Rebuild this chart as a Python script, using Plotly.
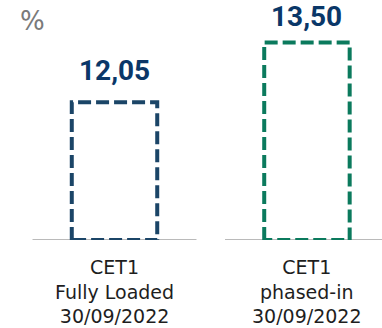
import plotly.graph_objects as go

# CET1 capital ratios at 30/09/2022
categories = ["CET1<br>Fully Loaded<br>30/09/2022", "CET1<br>phased-in<br>30/09/2022"]
values = [12.05, 13.50]
unit_label = "%"

# styling
outline_colors = ["#1b4567", "#0b7a5d"]
value_color = "#0a3768"
axis_ranges = [21.0, 16.4]          # each bar has its own vertical scale
value_shifts = [13, 7]              # pixel gap between bar top and value label
bar_half = 0.222
base_half = 0.426

fig = go.Figure()
positions = list(range(len(categories)))

for i, (pos, val) in enumerate(zip(positions, values)):
    yax = "y" if i == 0 else "y2"
    # baseline segment under the bar
    fig.add_trace(go.Scatter(
        x=[pos - base_half, pos + base_half], y=[0, 0], mode="lines",
        line=dict(color="#a3a3a3", width=1.5), yaxis=yax, hoverinfo="skip",
        showlegend=False))
    # dashed outline of the bar
    fig.add_trace(go.Scatter(
        x=[pos - bar_half, pos - bar_half, pos + bar_half, pos + bar_half, pos - bar_half],
        y=[0, val, val, 0, 0], mode="lines",
        line=dict(color=outline_colors[i], width=4, dash="13px,5px"),
        yaxis=yax, showlegend=False))
    fig.add_annotation(
        x=pos, y=val, xref="x", yref=yax, yanchor="bottom", yshift=value_shifts[i],
        text=f"<b>{val:.2f}</b>".replace(".", ","), showarrow=False,
        font=dict(family="Roboto", size=28, color=value_color))
    fig.add_annotation(
        x=pos, y=0, xref="x", yref=yax, yanchor="top", yshift=-14,
        text=categories[i], showarrow=False,
        font=dict(family="DejaVu Sans", size=19, color="#1e1e1e"))

# unit label, placed in pixel terms within the plot area
fig.add_annotation(
    x=32 / 382, y=1 - 21 / 240, xref="paper", yref="paper",
    xanchor="center", yanchor="middle", text=unit_label, showarrow=False,
    font=dict(family="DejaVu Sans", size=26, color="#7a7a7a"))

fig.update_layout(
    width=382, height=328,
    margin=dict(l=0, r=0, t=0, b=88),
    paper_bgcolor="white", plot_bgcolor="white",
    xaxis=dict(range=[-0.595, 1.39], visible=False, fixedrange=True),
    yaxis=dict(range=[0, axis_ranges[0]], visible=False),
    yaxis2=dict(range=[0, axis_ranges[1]], visible=False, overlaying="y"),
)

fig.write_html("out.html")
